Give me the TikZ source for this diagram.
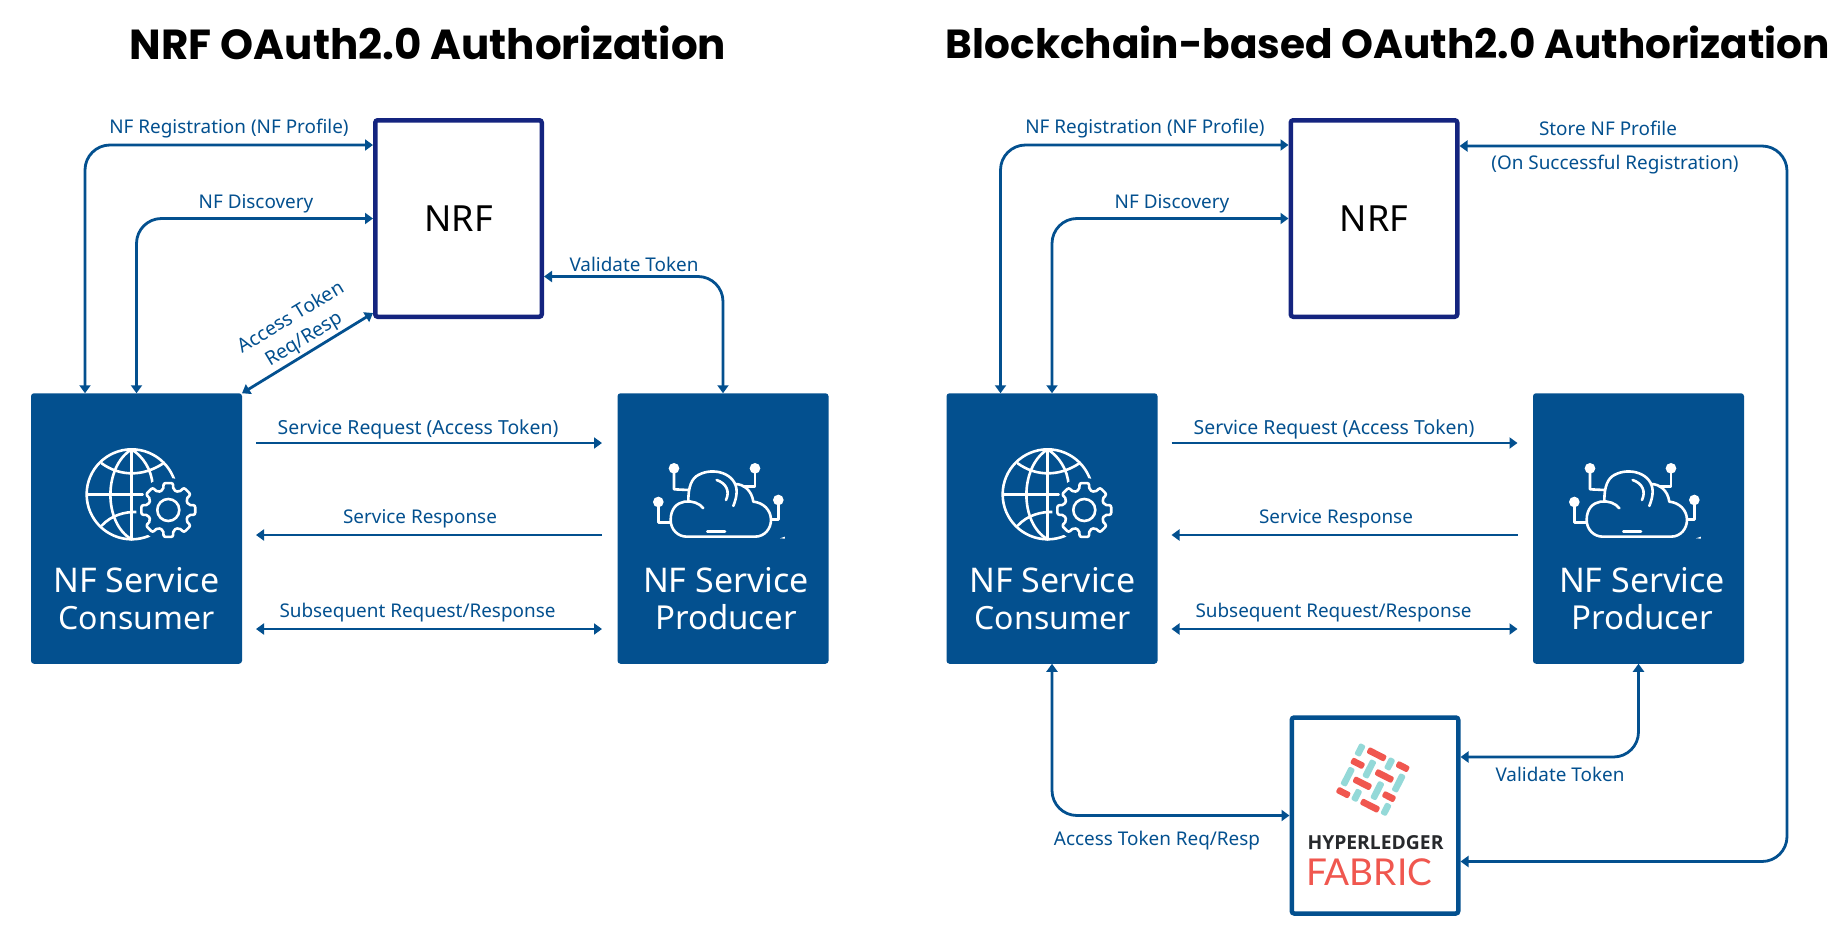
\documentclass[tikz,border=0pt]{standalone}
\usepackage{fontspec}
\usetikzlibrary{arrows.meta,calc}
\setmainfont{Noto Sans}
\newfontfamily\titlefont{Poppins}
\newfontfamily\lato{Lato}
\newfontfamily\opensans{Open Sans}
\definecolor{nfblue}{HTML}{03508F}
\definecolor{nrfnavy}{HTML}{14247F}
\definecolor{hlred}{HTML}{F0574F}
\definecolor{hlteal}{HTML}{94D9D8}
\definecolor{hldark}{HTML}{27292C}
\tikzset{
 conn/.style={draw=nfblue,line width=2.8pt,rounded corners=25pt,{Triangle[length=8pt,width=11pt]}-{Triangle[length=8pt,width=11pt]}},
 connto/.style={draw=nfblue,line width=2.8pt,-{Triangle[length=8pt,width=11pt]}},
 nfbox/.style={fill=nfblue,draw=none,outer sep=0pt,inner sep=0pt,rounded corners=3pt,minimum width=211pt,minimum height=270.5pt},
 whitebox/.style={fill=white,line width=4.5pt,inner sep=0pt,rounded corners=2.5pt,font=\fontsize{36}{38}\selectfont,text=black},
 lbl/.style={text=nfblue,font=\fontsize{18.9}{22}\selectfont,inner sep=0pt},
 lblwide/.style={text=nfblue,font=\fontsize{19.4}{22}\selectfont,inner sep=0pt},
 boxtext/.style={text=white,align=center,inner sep=0pt,font=\fontsize{34}{37}\selectfont},
 titletext/.style={font=\titlefont\bfseries,inner sep=0pt,text=black},
 icn/.style={draw=white,line width=2.6pt,line cap=round,line join=round},
 redbar/.style={fill=hlred,rounded corners=2pt},
 tealbar/.style={fill=hlteal,rounded corners=2pt},
 globeicon/.pic={
  \begin{scope}[x=0.3333pt,y=-0.3333pt]
   \draw[icn] (395,343) circle[radius=135];
   \draw[icn] (395,208) .. controls (310,260) and (310,430) .. (395,478);
   \draw[icn] (395,208) .. controls (430,230) and (455,270) .. (458,315);
   \draw[icn] (395,208) -- (395,478);
   \draw[icn] (305,250) .. controls (360,290) and (430,290) .. (490,250);
   \draw[icn] (305,437) .. controls (335,405) and (375,395) .. (410,396);
   \fill[nfblue] (505,390) circle[radius=96];
   \draw[icn] (262,343) -- (428,343);
   \draw[icn] (395,396) -- (395,478);
  \end{scope}
 },
 gearicon/.pic={
  \begin{scope}[x=0.3333pt,y=-0.3333pt]
   \draw[icn,rounded corners=2pt]
     (-14:62)--(-10:82)--(10:82)--(14:62)--(31:62)--(35:82)--(55:82)--(59:62)--(76:62)--(80:82)--(100:82)--(104:62)--(121:62)--(125:82)--(145:82)--(149:62)--(166:62)--(170:82)--(190:82)--(194:62)--(211:62)--(215:82)--(235:82)--(239:62)--(256:62)--(260:82)--(280:82)--(284:62)--(301:62)--(305:82)--(325:82)--(329:62)--cycle;
   \draw[icn] (0,0) circle[radius=33];
  \end{scope}
 },
 cloudicon/.pic={
  \begin{scope}[x=0.3333pt,y=-0.3333pt]
   \draw[icn] (310,385) .. controls (290,355) and (212,350) .. (212,420) .. controls (212,450) and (235,470) .. (260,470) -- (465,470) .. controls (495,470) and (513,445) .. (513,420) .. controls (513,390) and (490,368) .. (460,365) .. controls (455,330) and (430,312) .. (405,312);
   \draw[icn] (295,285) .. controls (340,260) and (410,280) .. (410,335) .. controls (410,350) and (405,365) .. (400,378);
   \draw[icn] (295,285) .. controls (275,295) and (265,320) .. (265,362);
   \draw[icn] (350,300) .. controls (380,310) and (390,335) .. (378,360);
   \draw[icn] (322,454) -- (375,454);
   \draw[icn] (222,265) -- (222,328) -- (265,330);
   \draw[icn] (465,265) -- (465,320) -- (430,320);
   \draw[icn] (175,366) -- (175,428) -- (210,428);
   \draw[icn] (535,360) -- (535,418) -- (515,418);
   \fill[white] (222,265) circle[radius=16] (465,265) circle[radius=16] (175,366) circle[radius=16] (535,360) circle[radius=16];
   \fill[white] (540,475) -- (555,470) -- (555,476) -- cycle;
  \end{scope}
 },
 hllogo/.pic={
  \begin{scope}[x=0.3333pt,y=-0.3333pt]
   \foreach \cx/\cy/\len in {320/163/60,263/190/42,398/200/40,343/228/58,277/250/58,220/278/42,357/290/40,300/317/60}
     \fill[redbar,shift={(\cx,\cy)},rotate=-27] (-\len/2,-10) rectangle (\len/2,10);
   \foreach \cx/\cy/\len in {270/150/38,359/192/38,233/230/60,298/207/58,386/249/58,322/272/58,260/286/38,348/328/38}
     \fill[tealbar,shift={(\cx,\cy)},rotate=63] (-\len/2,-10) rectangle (\len/2,10);
  \end{scope}
 }
}
\begin{document}
\begin{tikzpicture}[x=1pt,y=-1pt]
\useasboundingbox (0,0) rectangle (1848,934);
% Titles
\node[titletext,font=\titlefont\bfseries\fontsize{42}{46}\selectfont] (t1) at (428,42.5) {NRF OAuth2.0 Authorization};
\node[titletext,font=\titlefont\bfseries\fontsize{40.6}{46}\selectfont] (t2) at (1388,42.5) {Blockchain-based OAuth2.0 Authorization};
% Left diagram
\node[nfbox] (cons) at (136.5,528.5) {};
\node[nfbox] (prod) at (723,528.5) {};
\node[whitebox,draw=nrfnavy,minimum width=166.5pt,minimum height=196.5pt] (nrf) at (458.5,218.5) {NRF};
\node[boxtext] (constext) at (136.5,598.5) {NF Service\\{\fontsize{32}{37}\selectfont Consumer}};
\node[boxtext] (prodtext) at (726,598.5) {NF Service\\{\fontsize{33}{37}\selectfont Producer}};
\pic at (0,380) {globeicon};
\pic at (168.3,510) {gearicon};
\pic at (600,380) {cloudicon};
\draw[conn] ([xshift=-51.5pt]cons.north) |- ([yshift=73.5pt]nrf.west);
\draw[conn] (cons.north) |- (nrf.west);
\draw[conn] (prod.north) |- ([yshift=-58pt]nrf.east);
\draw[conn] ([yshift=6pt]nrf.south west) -- (cons.north east);
\draw[connto] ([xshift=14pt,yshift=85.5pt]cons.east) -- ([xshift=-15.5pt,yshift=85.5pt]prod.west);
\draw[connto] ([xshift=-15.5pt,yshift=-6.5pt]prod.west) -- ([xshift=14pt,yshift=-6.5pt]cons.east);
\draw[conn] ([xshift=14pt,yshift=-100.5pt]cons.east) -- ([xshift=-15.5pt,yshift=-100.5pt]prod.west);
\node[lbl] (l1) at (229,129) {NF Registration (NF Profile)};
\node[lbl] (l2) at (256,203.5) {NF Discovery};
\node[lbl] (l3) at (634,264) {Validate Token};
\node[lbl,align=center,rotate=31,font=\fontsize{19.4}{25}\selectfont] (l4) at (298,329) {Access Token\\Req/Resp};
\node[lblwide] (l5) at (418,429) {Service Request (Access Token)};
\node[lbl] (l6) at (420,519) {Service Response};
\node[lbl] (l7) at (417.5,613) {Subsequent Request/Response};
% Right diagram
\node[nfbox] (cons2) at (1052,528.5) {};
\node[nfbox] (prod2) at (1638.5,528.5) {};
\node[whitebox,draw=nrfnavy,minimum width=166.5pt,minimum height=196.5pt] (nrf2) at (1374,218.5) {NRF};
\node[whitebox,draw=nfblue,minimum width=166.5pt,minimum height=196pt] (fab) at (1375,815.5) {};
\node[boxtext] (constext2) at (1052.5,598.5) {NF Service\\{\fontsize{32}{37}\selectfont Consumer}};
\node[boxtext] (prodtext2) at (1642,598.5) {NF Service\\{\fontsize{33}{37}\selectfont Producer}};
\pic at (916,380) {globeicon};
\pic at (1084.3,510) {gearicon};
\pic at (1516,380) {cloudicon};
\pic at (1270,700) {hllogo};
\node[inner sep=0pt,text=hldark,font=\opensans\bfseries\fontsize{19.3}{20}\selectfont] (hl1) at (1375.5,843) {HYPERLEDGER};
\node[inner sep=0pt,text=hlred,font=\lato\fontsize{37}{40}\selectfont] (hl2) at (1369,872.5) {FABRIC};
\coordinate (storerail) at (1787,500);
\draw[conn] ([yshift=72.5pt]nrf2.east) -| (storerail) |- ([yshift=-46pt]fab.east);
\draw[conn] (cons2.north) |- (nrf2.west);
\draw[conn] ([xshift=-51.5pt]cons2.north) |- ([yshift=73.5pt]nrf2.west);
\draw[conn] (prod2.south) |- ([yshift=58.5pt]fab.east);
\draw[conn] (cons2.south) |- (fab.west);
\draw[connto] ([xshift=14pt,yshift=85.5pt]cons2.east) -- ([xshift=-15.5pt,yshift=85.5pt]prod2.west);
\draw[connto] ([xshift=-15.5pt,yshift=-6.5pt]prod2.west) -- ([xshift=14pt,yshift=-6.5pt]cons2.east);
\draw[conn] ([xshift=14pt,yshift=-100.5pt]cons2.east) -- ([xshift=-15.5pt,yshift=-100.5pt]prod2.west);
\node[lbl] (r1) at (1145,129) {NF Registration (NF Profile)};
\node[lbl] (r2) at (1172,203.5) {NF Discovery};
\node[lbl] (r3) at (1608,128) {Store NF Profile};
\node[lbl] (r4) at (1615,165) {(On Successful Registration)};
\node[lblwide] (r5) at (1334,429) {Service Request (Access Token)};
\node[lbl] (r6) at (1336,519) {Service Response};
\node[lbl] (r7) at (1333.5,613) {Subsequent Request/Response};
\node[lbl] (r8) at (1560,774.5) {Validate Token};
\node[lbl] (r9) at (1157,840.5) {Access Token Req/Resp};
\end{tikzpicture}
\end{document}
